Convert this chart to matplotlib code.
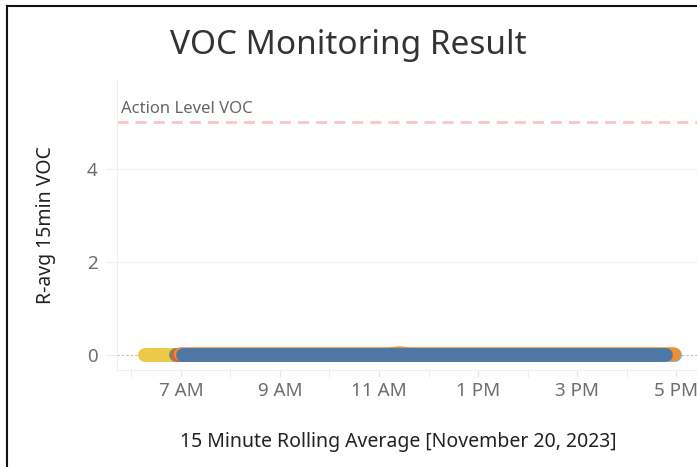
import matplotlib
matplotlib.use("Agg")
import matplotlib.pyplot as plt
from matplotlib.lines import Line2D

plt.rcParams['font.family'] = ['Noto Sans', 'DejaVu Sans']

# hours of the day (decimal) and rolling averages per sensor
yellow_t = [6.28, 6.5, 6.75, 7.0]
yellow_v = [0.01, 0.01, 0.01, 0.01]
teal_t = [16.9, 16.98]
teal_v = [0.01, 0.01]
green_t = [6.9, 8.0, 12.0, 16.5]
green_v = [0.01, 0.01, 0.01, 0.01]
red_t = [6.95, 8.0, 12.0, 16.6]
red_v = [0.01, 0.01, 0.01, 0.01]
orange_t = [7.0, 9.0, 11.2, 11.4, 11.6, 14.0, 16.95]
orange_v = [0.02, 0.02, 0.02, 0.04, 0.02, 0.02, 0.02]
blue_t = [7.05, 9.0, 11.0, 13.0, 15.0, 16.8]
blue_v = [0.01, 0.01, 0.01, 0.01, 0.01, 0.01]

action_level = 5
tick_hours = [7, 9, 11, 13, 15, 17]
tick_labels = ["7 AM", "9 AM", "11 AM", "1 PM", "3 PM", "5 PM"]

fig = plt.figure(figsize=(6.97, 4.67), dpi=100)
ax = fig.add_axes([117/697, 1 - 370/467, 1 - 117/697 + 0.01, 290/467])

ax.set_xlim(5.71, 17.56)
ax.set_ylim(-0.32, 5.91)

# light grid at y ticks, dashed zero line
for y in [2, 4]:
    ax.axhline(y, color='#f0f0f0', lw=0.8, zorder=0)
ax.axhline(0, color='#bbbbbb', lw=0.8, ls=(0, (2, 2)), zorder=0)

series = [
    (yellow_t, yellow_v, '#EDC948'),
    (teal_t, teal_v, '#76B7B2'),
    (green_t, green_v, '#59A14F'),
    (red_t, red_v, '#E15759'),
    (orange_t, orange_v, '#F28E2B'),
    (blue_t, blue_v, '#4E79A7'),
]
for t, v, c in series:
    ax.plot(t, v, color=c, lw=10, solid_capstyle='round', solid_joinstyle='round', zorder=3)

# reference line
ax.axhline(action_level, color='#f6c8c8', lw=2, ls=(0, (4, 2.5)), zorder=2)
ax.text(5.8, action_level + 0.12, "Action Level VOC", fontsize=12, color='#666666',
        va='bottom', ha='left')

ax.set_xticks(tick_hours)
ax.set_xticklabels(tick_labels)
ax.set_xticks(range(6, 18), minor=True)
ax.set_yticks([0, 2, 4])
ax.tick_params(axis='x', which='both', length=5, color='#e6e6e6', labelsize=13.5,
               labelcolor='#6e6e6e', pad=4)
ax.tick_params(axis='y', length=8, color='#eeeeee', labelsize=13.5,
               labelcolor='#6e6e6e', pad=6)

for s in ['top', 'right']:
    ax.spines[s].set_visible(False)
for s in ['left', 'bottom']:
    ax.spines[s].set_color('#efefef')

ax.set_xlabel("15 Minute Rolling Average [November 20, 2023]", fontsize=14,
              color='#222222')
ax.xaxis.set_label_coords(0.48, -0.215)
ax.set_ylabel("R-avg 15min VOC", fontsize=14, color='#222222', labelpad=22)

fig.text(348/697, 1 - 45/467, "VOC Monitoring Result", fontsize=24, color='#333333',
         ha='center', va='center')

# dashboard frame
fig.add_artist(Line2D([7/697, 1], [1 - 6/467, 1 - 6/467], color='#111111', lw=1.5))
fig.add_artist(Line2D([7/697, 7/697], [0, 1 - 6/467], color='#111111', lw=1.5))

fig.savefig("out.png", dpi=100)
